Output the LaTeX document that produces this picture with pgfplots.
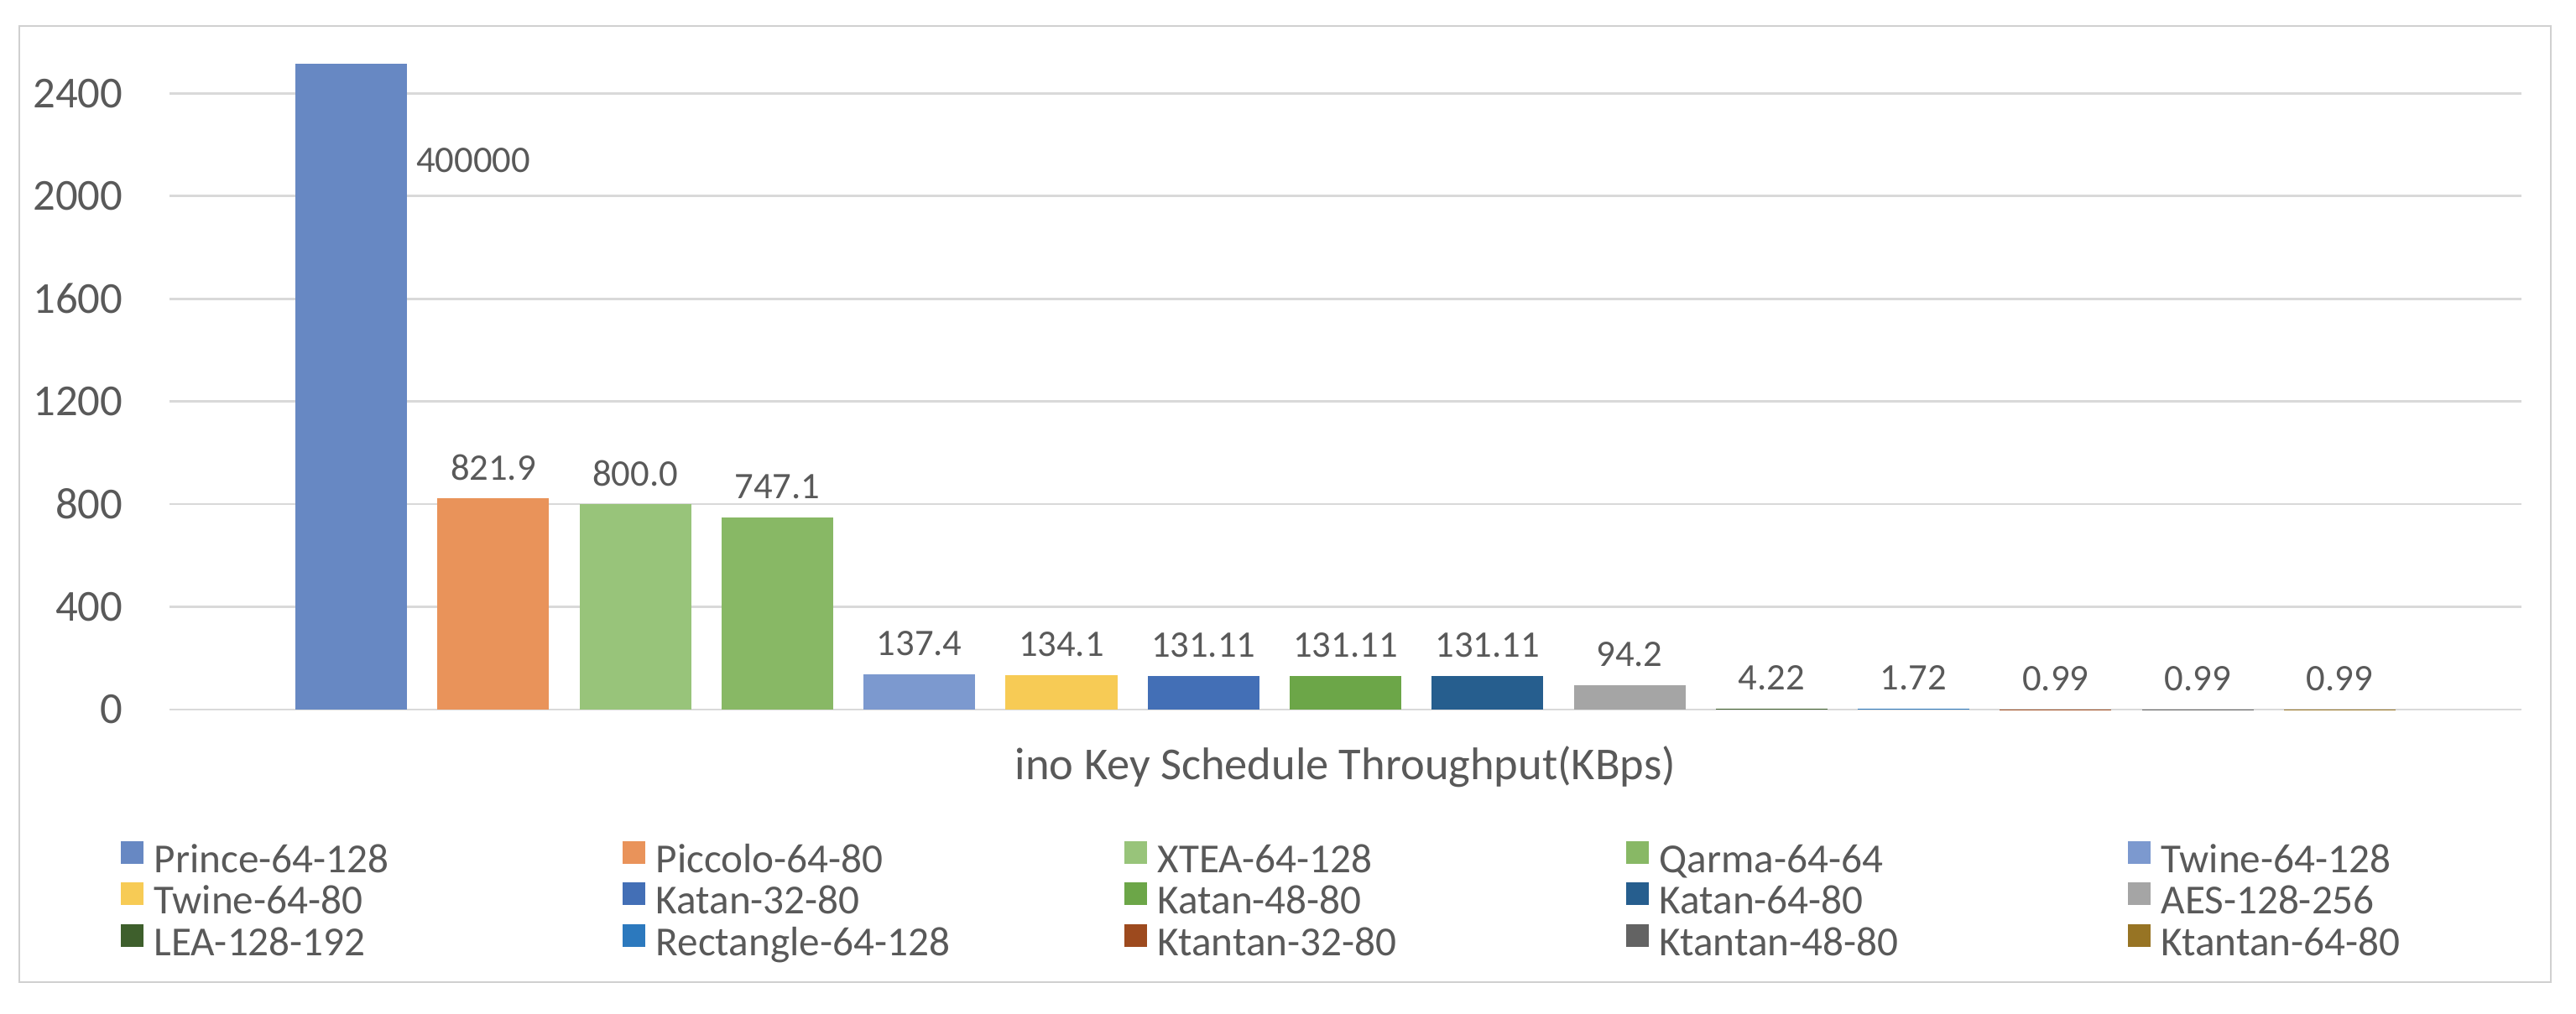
\documentclass[border=0pt]{standalone}
\usepackage{fontspec}
\setmainfont{Carlito}
\usepackage{pgfplots}
\pgfplotsset{compat=1.18}

\definecolor{textgray}{HTML}{595959}
\definecolor{gridgray}{HTML}{D9D9D9}
\definecolor{framegray}{HTML}{D0D0D0}
\definecolor{c1}{HTML}{6788C3}
\definecolor{c2}{HTML}{E9935A}
\definecolor{c3}{HTML}{98C47A}
\definecolor{c4}{HTML}{88B865}
\definecolor{c5}{HTML}{7C99CF}
\definecolor{c6}{HTML}{F7CB55}
\definecolor{c7}{HTML}{436FB6}
\definecolor{c8}{HTML}{6CA648}
\definecolor{c9}{HTML}{265E8E}
\definecolor{c10}{HTML}{A5A5A5}
\definecolor{c11}{HTML}{3E5F2C}
\definecolor{c12}{HTML}{2C79BE}
\definecolor{c13}{HTML}{9D4A1E}
\definecolor{c14}{HTML}{636363}
\definecolor{c15}{HTML}{977424}

\newcommand{\legtxt}[1]{\makebox[5.58cm][l]{\rule[-0.12cm]{0pt}{0.48cm}#1}}

\begin{document}
\begin{tikzpicture}
\useasboundingbox (0,0) rectangle (30.7,12.08);
\fill[white] (0,0) rectangle (30.7,12.08);
\draw[draw=framegray, line width=0.8pt] (0.23,0.37) rectangle (30.40,11.77);
\begin{axis}[
    at={(2.02cm,3.62cm)}, anchor=south west,
    scale only axis, width=28.03cm, height=7.70cm,
    xmin=-1.28, xmax=15.28, ymin=0, ymax=2515,
    ytick={0,400,...,2400}, xtick=\empty,
    ymajorgrids, grid style={draw=gridgray, line width=0.8pt},
    axis line style={draw=none},
    major tick length=0pt,
    /pgf/number format/assume math mode=true,
    /pgf/number format/1000 sep={},
    tick label style={font=\fontsize{15}{18}\selectfont, text=textgray},
    yticklabel style={anchor=east, inner sep=0pt, xshift=-0.55cm},
    xlabel={ino Key Schedule Throughput(KBps)},
    xlabel style={font=\fontsize{15.5}{18}\selectfont, text=textgray,
        at={(axis description cs:0.5,0)}, anchor=center, yshift=-0.68cm},
    ybar, bar width=0.786,
    restrict y to domain*=0:2515,
    barsty/.style={fill=#1, draw=none, bar shift=0pt},
    every node near coord/.append style={font=\fontsize{12.7}{15}\selectfont,
        text=textgray, anchor=center, inner sep=0pt, yshift=0.37cm},
    legend columns=5,
    legend image code/.code={\path[#1, draw=none] (0cm,-0.05cm) rectangle (0.27cm,0.22cm);},
    legend style={at={(-0.02105,-0.2026)}, anchor=north west, draw=none, fill=none,
        inner sep=0pt, font=\fontsize{14}{16}\selectfont, text=textgray,
        row sep=0.07cm, nodes={inner sep=0pt},
        /tikz/every odd column/.append style={column sep=0.13cm}},
]
\addplot[barsty=c1] coordinates {(0,400000)};
\addlegendentry{\legtxt{Prince-64-128}}
\addplot[barsty=c2, nodes near coords, point meta=explicit symbolic] coordinates {(1,821.9) [821.9]};
\addlegendentry{\legtxt{Piccolo-64-80}}
\addplot[barsty=c3, nodes near coords, point meta=explicit symbolic] coordinates {(2,800.0) [800.0]};
\addlegendentry{\legtxt{XTEA-64-128}}
\addplot[barsty=c4, nodes near coords, point meta=explicit symbolic] coordinates {(3,747.1) [747.1]};
\addlegendentry{\legtxt{Qarma-64-64}}
\addplot[barsty=c5, nodes near coords, point meta=explicit symbolic] coordinates {(4,137.4) [137.4]};
\addlegendentry{\legtxt{Twine-64-128}}
\addplot[barsty=c6, nodes near coords, point meta=explicit symbolic] coordinates {(5,134.1) [134.1]};
\addlegendentry{\legtxt{Twine-64-80}}
\addplot[barsty=c7, nodes near coords, point meta=explicit symbolic] coordinates {(6,131.11) [131.11]};
\addlegendentry{\legtxt{Katan-32-80}}
\addplot[barsty=c8, nodes near coords, point meta=explicit symbolic] coordinates {(7,131.11) [131.11]};
\addlegendentry{\legtxt{Katan-48-80}}
\addplot[barsty=c9, nodes near coords, point meta=explicit symbolic] coordinates {(8,131.11) [131.11]};
\addlegendentry{\legtxt{Katan-64-80}}
\addplot[barsty=c10, nodes near coords, point meta=explicit symbolic] coordinates {(9,94.2) [94.2]};
\addlegendentry{\legtxt{AES-128-256}}
\addplot[barsty=c11, nodes near coords, point meta=explicit symbolic] coordinates {(10,4.22) [4.22]};
\addlegendentry{\legtxt{LEA-128-192}}
\addplot[barsty=c12, nodes near coords, point meta=explicit symbolic] coordinates {(11,1.72) [1.72]};
\addlegendentry{\legtxt{Rectangle-64-128}}
\addplot[barsty=c13, nodes near coords, point meta=explicit symbolic] coordinates {(12,0.99) [0.99]};
\addlegendentry{\legtxt{Ktantan-32-80}}
\addplot[barsty=c14, nodes near coords, point meta=explicit symbolic] coordinates {(13,0.99) [0.99]};
\addlegendentry{\legtxt{Ktantan-48-80}}
\addplot[barsty=c15, nodes near coords, point meta=explicit symbolic] coordinates {(14,0.99) [0.99]};
\addlegendentry{\legtxt{Ktantan-64-80}}
\node[font=\fontsize{12.7}{15}\selectfont, text=textgray, inner sep=0pt] at (axis cs:0.86,2138) {400000};
\end{axis}
\end{tikzpicture}
\end{document}
